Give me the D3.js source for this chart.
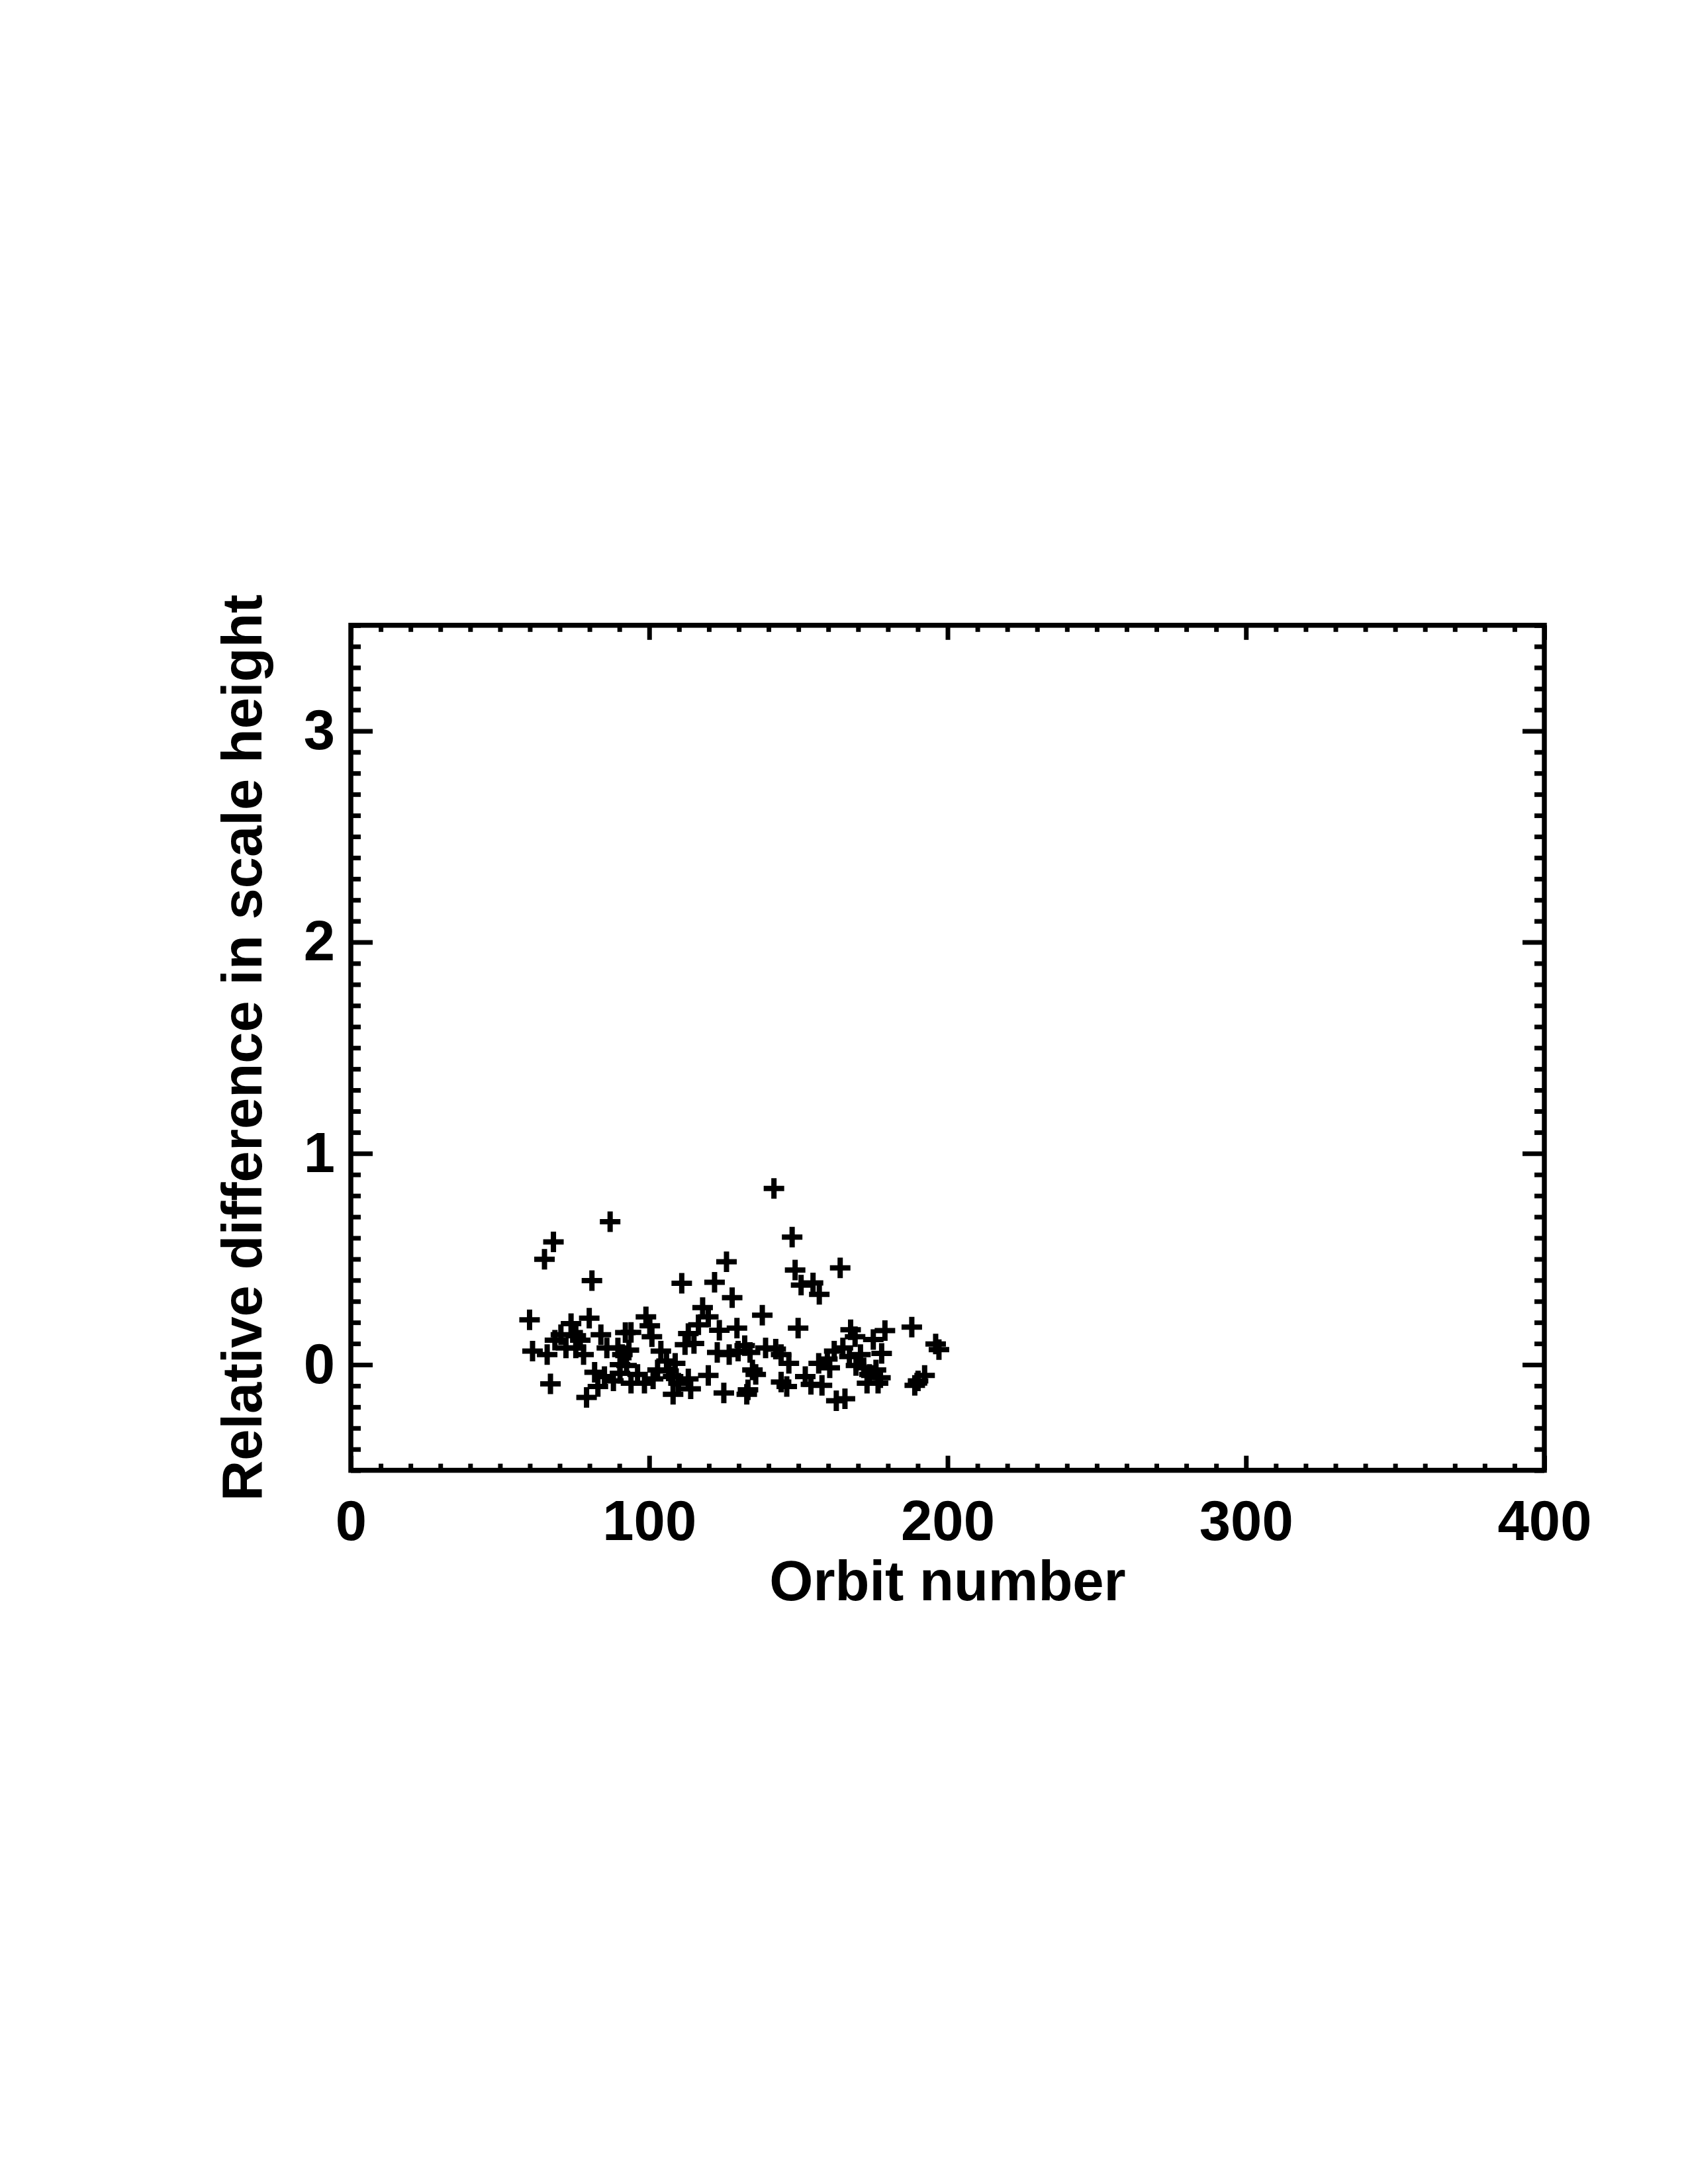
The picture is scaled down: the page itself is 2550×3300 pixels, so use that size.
<!DOCTYPE html>
<html>
<head>
<meta charset="utf-8">
<script src="https://cdn.jsdelivr.net/npm/d3@7"></script>
<style>
  body { margin: 0; background: #fff; }
  svg { display: block; }
</style>
</head>
<body>
<svg></svg>
<script>
// orbit number and relative difference in scale height
const orbit = [
    86.9, 67.9, 64.9, 80.8, 59.9, 79.9, 73.8, 83.8, 92.0, 60.9, 65.8, 70.4, 68.4, 75.4, 76.9,
    72.1, 75.4, 78.0, 85.8, 89.5, 91.0, 81.7, 66.9, 85.0, 88.0, 90.2, 90.2, 82.8, 79.0,
    125.9, 110.9, 121.9, 127.8, 98.9, 117.9, 119.8, 116.5, 123.5, 129.4, 100.2, 93.9, 100.9,
    113.1, 112.0, 115.0, 93.2, 103.9, 122.8, 126.8, 129.8, 92.4, 105.8, 108.7, 102.8, 106.5,
    96.1, 93.9, 98.4, 101.3, 108.0, 109.8, 113.1, 119.8, 108.0, 113.9, 125.0,
    141.8, 147.9, 148.9, 164.0, 150.9, 154.9, 157.0, 137.9, 149.9, 132.0, 133.8, 139.0,
    142.4, 144.2, 146.8, 134.6, 135.7, 133.1, 132.7, 144.2, 146.1, 152.3, 154.2, 157.9,
    156.8, 159.7, 162.0, 164.9, 167.1, 160.5, 162.7, 165.6,
    188.0, 179.0, 175.1, 177.9, 196.0, 197.1, 192.3, 190.1, 189.0, 167.5, 169.0, 170.8,
    169.3, 171.9, 173.8, 176.0, 177.5, 173.0, 176.7
];
const relDiff = [
    0.677, 0.581, 0.499, 0.398, 0.212, 0.220, 0.194, 0.142, 0.152, 0.064, 0.048, 0.142, 0.116, 0.137, 0.116,
    0.079, 0.079, 0.048, 0.079, 0.079, 0.048, -0.036, -0.091, -0.056, -0.077, 0.000, -0.041, -0.103, -0.155,
    0.487, 0.385, 0.390, 0.317, 0.226, 0.270, 0.226, 0.189, 0.163, 0.173, 0.184, 0.153, 0.132,
    0.147, 0.095, 0.100, 0.069, 0.064, 0.058, 0.048, 0.064, -0.004, 0.017, 0.006, -0.025, -0.030,
    -0.046, -0.088, -0.088, -0.067, -0.056, -0.088, -0.067, -0.051, -0.140, -0.114, -0.134,
    0.834, 0.604, 0.448, 0.458, 0.377, 0.387, 0.333, 0.234, 0.173, 0.090, 0.058, 0.079,
    0.074, 0.048, 0.006, -0.025, -0.046, -0.119, -0.140, -0.082, -0.103, -0.056, -0.093, -0.098,
    0.006, 0.027, 0.064, 0.079, 0.038, -0.015, -0.171, -0.161,
    0.178, 0.161, 0.119, 0.053, 0.098, 0.071, -0.051, -0.077, -0.098, 0.165, 0.132, 0.048,
    -0.004, -0.015, -0.046, -0.025, -0.062, -0.088, -0.088
];

const xMajor = [0, 100, 200, 300, 400];
const xTickLabels = ["0", "100", "200", "300", "400"];
const yMajor = [0, 1, 2, 3];
const yTickLabels = ["0", "1", "2", "3"];
const xTitle = "Orbit number";
const yTitle = "Relative difference in scale height";

const data = orbit.map((o, i) => ({ x: o, y: relDiff[i] }));

const width = 2550;
const height = 3300;
const plotLeft = 530, plotRight = 2333, plotTop = 944.8, plotBottom = 2221.6;
const font = "'Liberation Sans', Arial, Helvetica, sans-serif";
const fontSize = 85;

const xScale = d3.scaleLinear().domain([0, 400]).range([plotLeft, plotRight]);
const yScale = d3.scaleLinear().domain([-0.5, 3.5]).range([plotBottom, plotTop]);

const xMinor = d3.range(0, 401, 10).filter(v => !xMajor.includes(v));
const yMinor = d3.range(-5, 36).map(v => v / 10).filter(v => !yMajor.includes(v));

const svg = d3.select("svg")
    .attr("width", width)
    .attr("height", height);

svg.append("rect")
    .attr("width", width)
    .attr("height", height)
    .attr("fill", "#fff");

function styleAxis(g) {
    g.select(".domain").remove();
    g.selectAll(".tick line").attr("stroke", "#000").attr("stroke-width", 7);
    g.selectAll(".tick text")
        .attr("font-family", font)
        .attr("font-weight", "bold")
        .attr("font-size", fontSize)
        .attr("fill", "#000");
}

// bottom axis, ticks pointing inward
svg.append("g")
    .attr("transform", `translate(0,${plotBottom})`)
    .call(d3.axisBottom(xScale).tickValues(xMinor).tickSize(-10).tickFormat(""))
    .call(styleAxis);
svg.append("g")
    .attr("transform", `translate(0,${plotBottom})`)
    .call(d3.axisBottom(xScale).tickValues(xMajor).tickSize(-22).tickPadding(45)
        .tickFormat((d, i) => xTickLabels[i]))
    .call(styleAxis);

// top axis
svg.append("g")
    .attr("transform", `translate(0,${plotTop})`)
    .call(d3.axisTop(xScale).tickValues(xMinor).tickSize(-10).tickFormat(""))
    .call(styleAxis);
svg.append("g")
    .attr("transform", `translate(0,${plotTop})`)
    .call(d3.axisTop(xScale).tickValues(xMajor).tickSize(-22).tickFormat(""))
    .call(styleAxis);

// left axis
svg.append("g")
    .attr("transform", `translate(${plotLeft},0)`)
    .call(d3.axisLeft(yScale).tickValues(yMinor).tickSize(-15).tickFormat(""))
    .call(styleAxis);
svg.append("g")
    .attr("transform", `translate(${plotLeft},0)`)
    .call(d3.axisLeft(yScale).tickValues(yMajor).tickSize(-33).tickPadding(24)
        .tickFormat((d, i) => yTickLabels[i]))
    .call(styleAxis);

// right axis
svg.append("g")
    .attr("transform", `translate(${plotRight},0)`)
    .call(d3.axisRight(yScale).tickValues(yMinor).tickSize(-15).tickFormat(""))
    .call(styleAxis);
svg.append("g")
    .attr("transform", `translate(${plotRight},0)`)
    .call(d3.axisRight(yScale).tickValues(yMajor).tickSize(-33).tickFormat(""))
    .call(styleAxis);

// frame
svg.append("rect")
    .attr("x", plotLeft)
    .attr("y", plotTop)
    .attr("width", plotRight - plotLeft)
    .attr("height", plotBottom - plotTop)
    .attr("fill", "none")
    .attr("stroke", "#000")
    .attr("stroke-width", 7.5);

// plus markers
const arm = 15.5;
svg.append("g")
    .selectAll("path")
    .data(data)
    .enter()
    .append("path")
    .attr("d", d => {
        const cx = xScale(d.x), cy = yScale(d.y);
        return `M${cx - arm},${cy}H${cx + arm}M${cx},${cy - arm}V${cy + arm}`;
    })
    .attr("stroke", "#000")
    .attr("stroke-width", 8)
    .attr("fill", "none");

// axis titles
svg.append("text")
    .attr("x", (plotLeft + plotRight) / 2)
    .attr("y", 2418)
    .attr("text-anchor", "middle")
    .attr("font-family", font)
    .attr("font-weight", "bold")
    .attr("font-size", fontSize)
    .text(xTitle);

svg.append("text")
    .attr("transform", `translate(395,${(plotTop + plotBottom) / 2}) rotate(-90)`)
    .attr("text-anchor", "middle")
    .attr("font-family", font)
    .attr("font-weight", "bold")
    .attr("font-size", fontSize)
    .text(yTitle);
</script>
</body>
</html>
